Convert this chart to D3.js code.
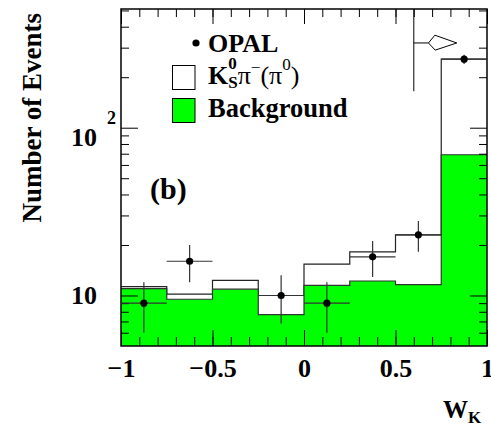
<!DOCTYPE html>
<html lang="en">

<head>
    <meta charset="UTF-8">
    <title>W_K distribution</title>
    <script src="https://d3js.org/d3.v7.min.js"></script>
    <style>
        body { margin: 0; background: #fff; }
        text { font-family: "Liberation Serif", "Times New Roman", serif; font-weight: bold; fill: #000; }
    </style>
</head>

<body>
    <svg id="chart" width="491" height="433"></svg>

    <script>
        // histogram bins in W_K
        const binEdges = [-1, -0.75, -0.5, -0.25, 0, 0.25, 0.5, 0.75, 1];
        // K0S pi- (pi0) signal + background (white histogram)
        const totalMC = [11.3, 10.2, 12.3, 10.0, 15.4, 18.2, 23.0, 256];
        // background only (green)
        const background = [11.0, 9.5, 10.9, 7.7, 11.5, 12.2, 11.6, 69];
        // OPAL data points
        const opalX = [-0.875, -0.625, -0.125, 0.125, 0.375, 0.625, 0.875];
        const opalY = [9, 16, 10, 9, 17, 23, 256];
        const opalErr = [3, 4, 3.2, 3, 4.1, 4.8, 16];

        const xMajor = [-1, -0.5, 0, 0.5, 1];
        const xLabels = ["\u22121", "\u22120.5", "0", "0.5", "1"];
        const yMajor = [10, 100];
        const yMinor = [6, 7, 8, 9, 20, 30, 40, 50, 60, 70, 80, 90, 200, 300, 400, 500];

        // cut marker at top right
        const cutX = 0.6, cutBottom = 165;
        const arrowArm = [[0.6, 320], [0.68, 320]];
        const arrowHead = [[0.68, 320], [0.715, 356], [0.835, 320], [0.717, 290]];

        const svg = d3.select("#chart");
        const box = { left: 121, right: 487, top: 9, bottom: 346 };

        const x = d3.scaleLinear().domain([-1, 1]).range([box.left, box.right]);
        const y = d3.scaleLog().domain([5, 510]).range([box.bottom, box.top]);

        const stepPts = vals => binEdges.map((e, i) => ({ e: e, v: vals[Math.min(i, vals.length - 1)] }));

        const area = d3.area().curve(d3.curveStepAfter)
            .x(d => x(d.e)).y0(y(5)).y1(d => y(d.v));
        const line = d3.line().curve(d3.curveStepAfter)
            .x(d => x(d.e)).y(d => y(d.v));

        // signal+background outline
        svg.append("path").datum(stepPts(totalMC))
            .attr("fill", "none").attr("stroke", "#222").attr("stroke-width", 1.2)
            .attr("d", line);

        // background
        svg.append("path").datum(stepPts(background))
            .attr("fill", "#00ff00").attr("d", area);
        svg.append("path").datum(stepPts(background))
            .attr("fill", "none").attr("stroke", "#333").attr("stroke-width", 1.2)
            .attr("d", line);

        // ticks
        const minorX = d3.range(-0.9, 0.95, 0.1);
        svg.append("g").attr("transform", `translate(0,${box.bottom})`)
            .call(d3.axisBottom(x).tickValues(minorX).tickSize(-9).tickFormat(""))
            .call(g => g.select(".domain").remove());
        svg.append("g").attr("transform", `translate(0,${box.bottom})`)
            .call(d3.axisBottom(x).tickValues(xMajor).tickSize(-16).tickPadding(13)
                .tickFormat((d, i) => xLabels[i]))
            .call(g => g.select(".domain").remove())
            .call(g => g.selectAll("text").attr("font-size", 26)
                .style("font-family", "'Liberation Serif', serif").style("font-weight", "bold"));
        svg.append("g").attr("transform", `translate(0,${box.top})`)
            .call(d3.axisTop(x).tickValues(minorX).tickSize(-8).tickFormat(""))
            .call(g => g.select(".domain").remove());
        svg.append("g").attr("transform", `translate(0,${box.top})`)
            .call(d3.axisTop(x).tickValues(xMajor).tickSize(-15).tickFormat(""))
            .call(g => g.select(".domain").remove());

        svg.append("g").attr("transform", `translate(${box.left},0)`)
            .call(d3.axisLeft(y).tickValues(yMinor).tickSize(-8).tickFormat(""))
            .call(g => g.select(".domain").remove());
        svg.append("g").attr("transform", `translate(${box.left},0)`)
            .call(d3.axisLeft(y).tickValues(yMajor).tickSize(-17).tickFormat(""))
            .call(g => g.select(".domain").remove());
        svg.append("g").attr("transform", `translate(${box.right},0)`)
            .call(d3.axisRight(y).tickValues(yMinor).tickSize(-8).tickFormat(""))
            .call(g => g.select(".domain").remove());
        svg.append("g").attr("transform", `translate(${box.right},0)`)
            .call(d3.axisRight(y).tickValues(yMajor).tickSize(-17).tickFormat(""))
            .call(g => g.select(".domain").remove());
        svg.selectAll(".tick line").attr("stroke", "#000").attr("stroke-width", 1);

        // y labels
        svg.append("text").attr("x", 97).attr("y", y(10) + 9)
            .attr("text-anchor", "end").attr("font-size", 26).text("10");
        const t100 = svg.append("text").attr("x", 71).attr("y", y(100) + 18).attr("font-size", 26);
        t100.append("tspan").text("10");
        t100.append("tspan").attr("x", 107).attr("dy", -22).attr("font-size", 18).text("2");

        // frame
        svg.append("rect")
            .attr("x", box.left).attr("y", box.top)
            .attr("width", box.right - box.left).attr("height", box.bottom - box.top)
            .attr("fill", "none").attr("stroke", "#000").attr("stroke-width", 1.5);

        // data points
        const pts = svg.append("g");
        opalX.forEach((d, i) => {
            pts.append("line")
                .attr("x1", x(d - 0.125)).attr("x2", x(d + 0.125))
                .attr("y1", y(opalY[i])).attr("y2", y(opalY[i]))
                .attr("stroke", "#333").attr("stroke-width", 1.2);
            pts.append("line")
                .attr("x1", x(d)).attr("x2", x(d))
                .attr("y1", y(opalY[i] - opalErr[i])).attr("y2", y(opalY[i] + opalErr[i]))
                .attr("stroke", "#333").attr("stroke-width", 1.2);
            pts.append("circle").attr("cx", x(d)).attr("cy", y(opalY[i])).attr("r", 3.6).attr("fill", "#000");
        });

        // cut marker
        svg.append("line")
            .attr("x1", x(cutX)).attr("x2", x(cutX))
            .attr("y1", box.top).attr("y2", y(cutBottom))
            .attr("stroke", "#000").attr("stroke-width", 1);
        svg.append("path").datum(arrowArm)
            .attr("d", d3.line().x(d => x(d[0])).y(d => y(d[1])))
            .attr("stroke", "#000").attr("fill", "none");
        svg.append("path").datum(arrowHead)
            .attr("d", d3.line().x(d => x(d[0])).y(d => y(d[1])).curve(d3.curveLinearClosed))
            .attr("stroke", "#000").attr("fill", "#fff").attr("stroke-width", 1);

        // legend
        const leg = svg.append("g");
        leg.append("circle").attr("cx", 196).attr("cy", 43).attr("r", 3.6).attr("fill", "#000");
        leg.append("text").attr("x", 208).attr("y", 52).attr("font-size", 26).text("OPAL");
        leg.append("rect").attr("x", 172.5).attr("y", 65.5).attr("width", 22.5).attr("height", 24)
            .attr("fill", "#fff").attr("stroke", "#000").attr("stroke-width", 1);
        leg.append("rect").attr("x", 172.5).attr("y", 98.5).attr("width", 22.5).attr("height", 24)
            .attr("fill", "#00ff00").attr("stroke", "#000").attr("stroke-width", 1);
        const kt = leg.append("text").attr("x", 208).attr("y", 84).attr("font-size", 26);
        kt.append("tspan").text("K");
        kt.append("tspan").attr("font-size", 17).attr("dy", -15).text("0");
        kt.append("tspan").attr("font-size", 17).attr("dx", -8.5).attr("dy", 19).text("S");
        kt.append("tspan").attr("font-weight", "normal").attr("dy", -4).text("\u03c0");
        kt.append("tspan").attr("font-weight", "normal").attr("font-size", 17).attr("dy", -11).text("\u2212");
        kt.append("tspan").attr("font-weight", "normal").attr("dy", 11).text("(\u03c0");
        kt.append("tspan").attr("font-weight", "normal").attr("font-size", 17).attr("dy", -14).text("0");
        kt.append("tspan").attr("font-weight", "normal").attr("dy", 14).text(")");
        leg.append("text").attr("x", 208).attr("y", 117).attr("font-size", 26.5).text("Background");

        // panel label
        svg.append("text").attr("x", 150).attr("y", 199).attr("font-size", 30).text("(b)");

        // axis titles
        svg.append("text")
            .attr("transform", "translate(41,13) rotate(-90)")
            .attr("text-anchor", "end").attr("font-size", 27).text("Number of Events");
        const wk = svg.append("text").attr("x", 443).attr("y", 418).attr("font-size", 25);
        wk.append("tspan").text("W");
        wk.append("tspan").attr("font-size", 17).attr("dy", 5).text("K");
    </script>

</body>

</html>
